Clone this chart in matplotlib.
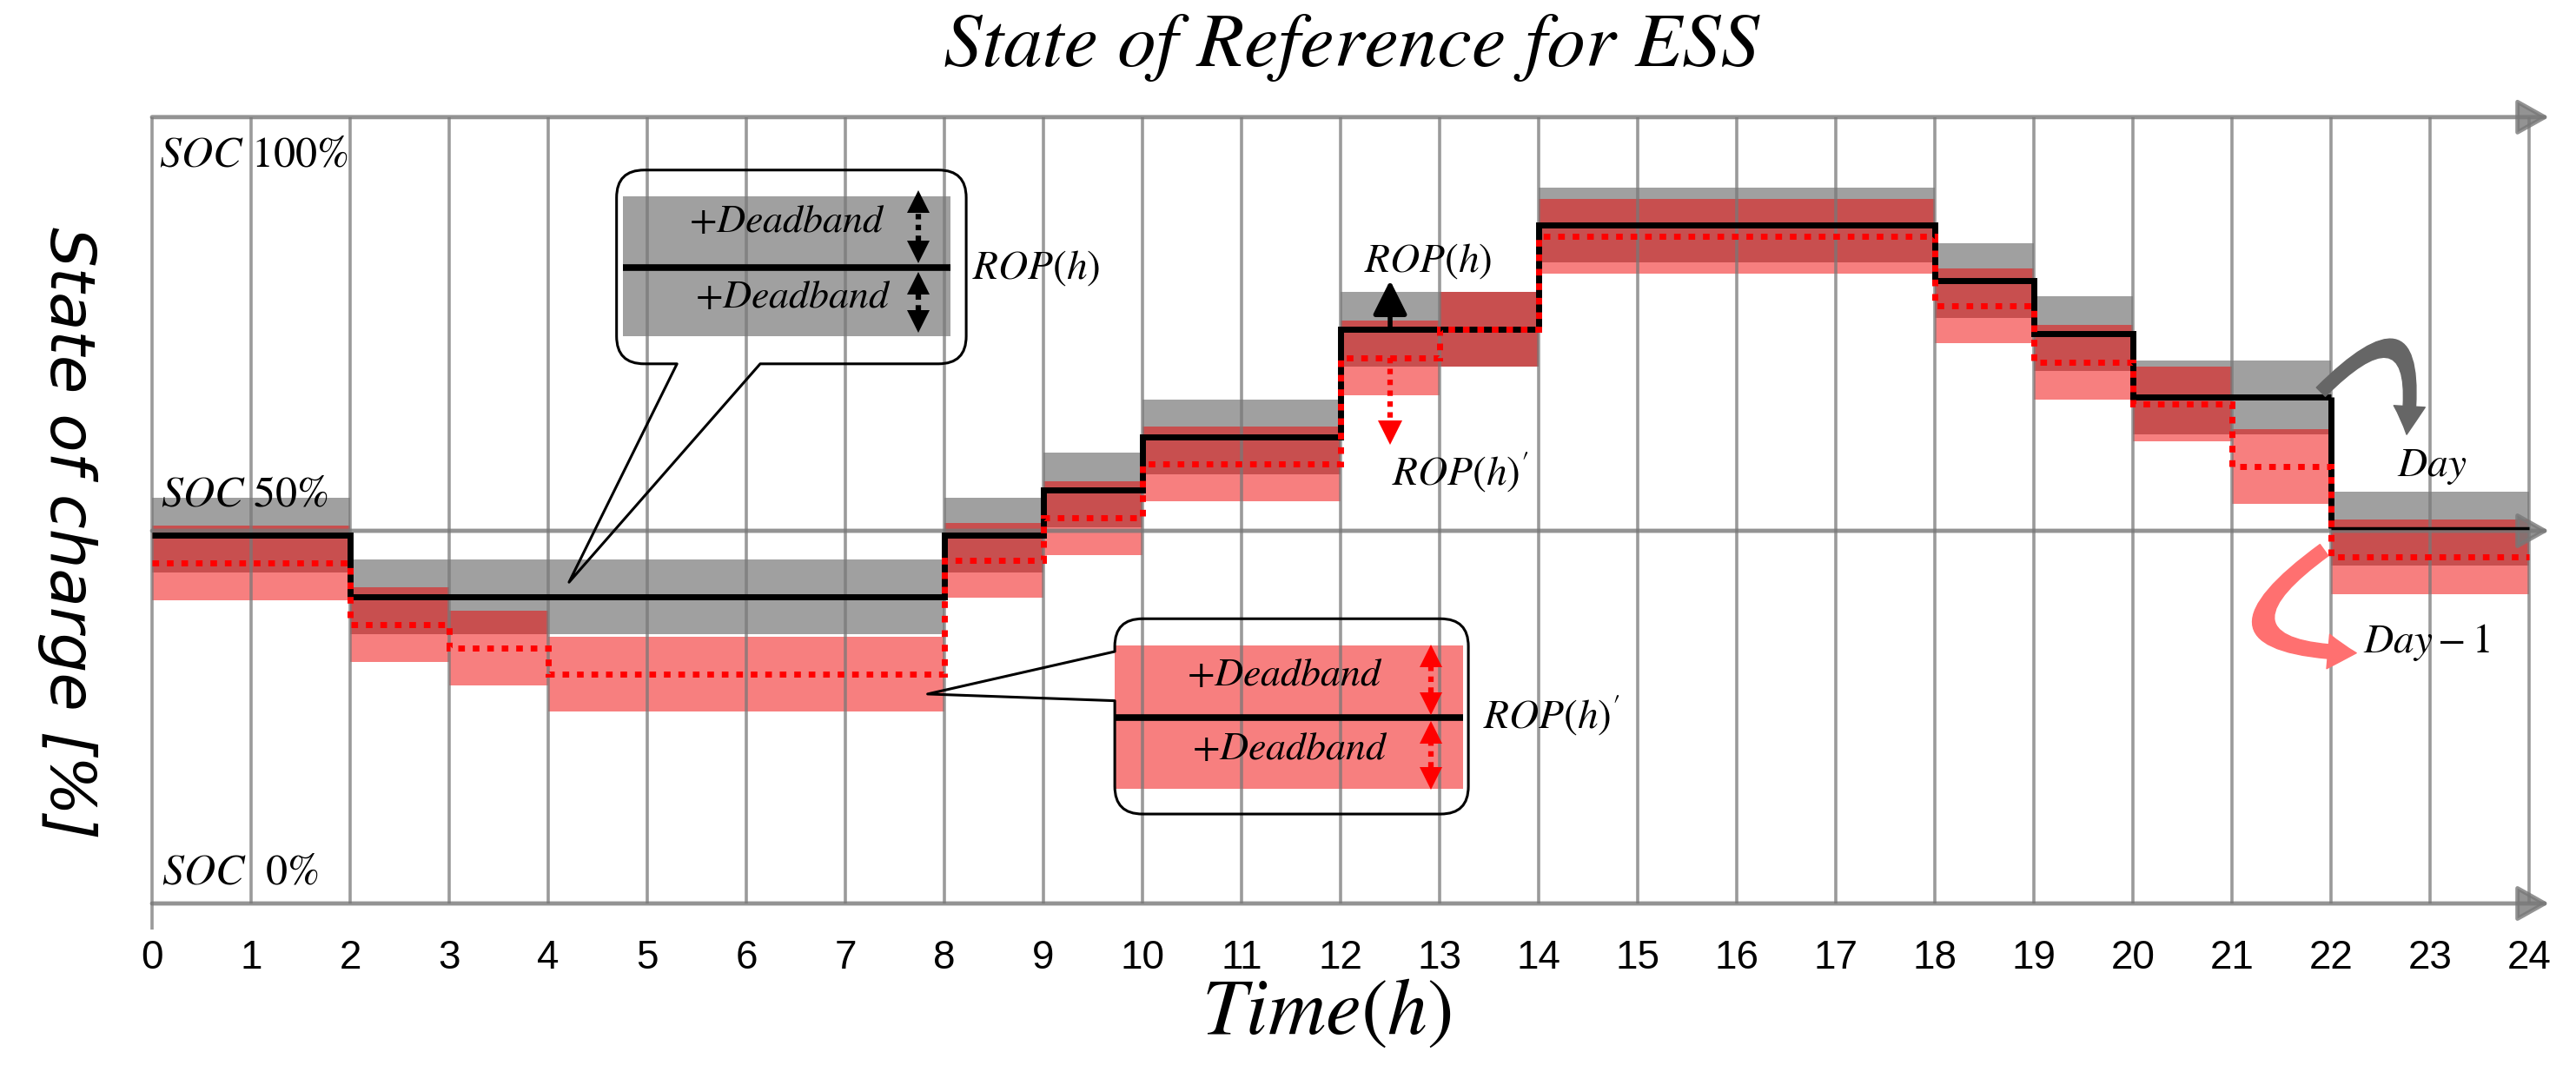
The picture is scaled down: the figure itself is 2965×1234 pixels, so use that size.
import numpy as np
import matplotlib
matplotlib.use('Agg')
import matplotlib.pyplot as plt
from matplotlib.path import Path
from matplotlib.patches import PathPatch, FancyArrowPatch, Rectangle

plt.rcParams['mathtext.fontset'] = 'stix'
plt.rcParams['font.family'] = ['STIXGeneral', 'DejaVu Sans']

# hours of the day (x axis)
hours = list(range(25))

# reference operating point ROP(h) of day D: segment edges [h] and SOC [%]
rop_edges = [0, 2, 8, 9, 10, 12, 14, 18, 19, 20, 22, 24]
rop_soc = [49.4, 41.1, 49.4, 55.5, 62.6, 77.0, 91.0, 83.6, 76.5, 67.9, 50.3]

# modified reference ROP(h)' (day D-1)
rop2_edges = [0, 2, 3, 4, 8, 9, 10, 12, 13, 14, 18, 19, 20, 21, 22, 24]
rop2_soc = [45.7, 37.4, 34.3, 30.8, 46.0, 51.7, 59.0, 73.2, 77.0, 89.5,
            80.2, 72.6, 67.0, 58.6, 46.5]

deadband = 5.0
soc_top = 105.5

GRID = (0.47, 0.47, 0.47)
BAND_GRAY = '#a0a0a0'
BAND_RED = (0.94, 0.0, 0.0)


def bubble(x0, y0, x1, y1, rx, ry, tail, edge):
    a, b, tip = tail
    verts = [(x0 + rx, y0)]
    codes = [Path.MOVETO]
    if edge == 'bottom':
        verts += [(a, y0), tip, (b, y0)]
        codes += [Path.LINETO] * 3
    verts += [(x1 - rx, y0), (x1, y0), (x1, y0 + ry),
              (x1, y1 - ry), (x1, y1), (x1 - rx, y1),
              (x0 + rx, y1), (x0, y1), (x0, y1 - ry)]
    codes += [Path.LINETO, Path.CURVE3, Path.CURVE3,
              Path.LINETO, Path.CURVE3, Path.CURVE3,
              Path.LINETO, Path.CURVE3, Path.CURVE3]
    if edge == 'left':
        verts += [(x0, a), tip, (x0, b)]
        codes += [Path.LINETO] * 3
    verts += [(x0, y0 + ry), (x0, y0), (x0 + rx, y0)]
    codes += [Path.LINETO, Path.CURVE3, Path.CURVE3]
    return PathPatch(Path(verts, codes), fill=False, lw=2.2, ec='black',
                     zorder=4, joinstyle='round')


def dbl_arrow(ax, x, y0, y1, color):
    # dotted shaft with solid triangular heads at both ends
    head = 1.4
    ax.plot([x, x], [y0 + head, y1 - head], color=color, lw=4.5,
            ls=(0, (1, 1)), zorder=4)
    ax.plot(x, y1 - head, marker='^', ms=19, color=color, mew=0, zorder=4)
    ax.plot(x, y0 + head, marker='v', ms=19, color=color, mew=0, zorder=4)


fig = plt.figure(figsize=(29.65, 12.34), dpi=100)
ax = fig.add_axes([0.04749, 0.1294, 0.9497, 0.7683])
ax.set_xlim(-0.3, 24.4)
ax.set_ylim(-4, 106.5)
for s in ax.spines.values():
    s.set_visible(False)
ax.set_yticks([])
ax.set_xticks(hours)
ax.set_xticklabels([str(h) for h in hours])
ax.tick_params(axis='x', length=0, pad=5, labelsize=33)
for lbl in ax.get_xticklabels():
    lbl.set_family(['Liberation Sans', 'DejaVu Sans'])

# deadband bands
rop = np.array(rop_soc)
rop2 = np.array(rop2_soc)
ax.stairs(rop + deadband, rop_edges, baseline=rop - deadband, fill=True,
          color=BAND_GRAY, lw=0, zorder=1)
ax.stairs(rop2 + deadband, rop2_edges, baseline=rop2 - deadband, fill=True,
          color=BAND_RED, alpha=0.5, lw=0, zorder=1.1)

# grid and frame
ax.vlines(hours[1:], 0, soc_top, color=GRID, alpha=0.75, lw=2.6, zorder=2)
ax.vlines(0, -3.5, soc_top, color=GRID, alpha=0.75, lw=2.6, zorder=2)
for y in [0, 50, soc_top]:
    ax.annotate('', xy=(24.2, y), xytext=(0, y), zorder=2,
                arrowprops=dict(arrowstyle='-|>,head_length=0.5,head_width=0.28',
                                color=GRID, alpha=0.8, lw=3.5, shrinkA=0,
                                shrinkB=0, mutation_scale=45))

# ROP(h) and ROP(h)' step lines
ax.stairs(rop[:-1], rop_edges[:-1], baseline=None, color='black', lw=5, zorder=3)
ax.vlines(rop_edges[-2], rop[-1], rop[-2], color='black', lw=5, zorder=3)
ax.hlines(rop[-1], rop_edges[-2], rop_edges[-1], color='black', lw=2.5, zorder=3)
ax.stairs(rop2, rop2_edges, baseline=None, color='red', lw=5,
          ls=(0, (1.1, 1.3)), zorder=3.5)

# SOC labels
ax.text(0.07, 102.9, '$SOC$ 100%', fontsize=36, va='top', ha='left', zorder=5)
ax.text(0.09, 53.3, '$SOC$ 50%', fontsize=36, va='baseline', ha='left', zorder=5)
ax.text(0.1, 2.6, '$SOC$  0%', fontsize=36, va='baseline', ha='left', zorder=5)

# callout for ROP(h)
ax.add_patch(bubble(4.69, 72.4, 8.22, 98.4, 0.28, 3.7,
                    (5.30, 6.14, (4.21, 43.1)), 'bottom'))
ax.add_patch(Rectangle((4.75, 76.1), 3.31, 18.8, color=BAND_GRAY, lw=0, zorder=1.5))
ax.hlines(85.3, 4.75, 8.06, color='black', lw=5.5, zorder=3)
ax.text(6.41, 91.3, '$+Deadband$', fontsize=33, ha='center', va='center', zorder=5)
ax.text(6.47, 81.2, '$+Deadband$', fontsize=33, ha='center', va='center', zorder=5)
dbl_arrow(ax, 7.74, 86.0, 95.6, 'black')
dbl_arrow(ax, 7.74, 76.7, 84.6, 'black')
ax.text(8.28, 85.3, '$ROP(h)$', fontsize=34, ha='left', va='center', zorder=5)

# callout for ROP(h)'
ax.add_patch(bubble(9.72, 12.0, 13.29, 38.2, 0.28, 3.7,
                    (33.8, 27.2, (7.83, 28.1)), 'left'))
ax.add_patch(Rectangle((9.72, 15.4), 3.52, 19.2, color=BAND_RED, alpha=0.5,
                       lw=0, zorder=1.5))
ax.hlines(24.9, 9.72, 13.24, color='black', lw=5.5, zorder=3)
ax.text(11.44, 30.5, '$+Deadband$', fontsize=33, ha='center', va='center', zorder=5)
ax.text(11.49, 20.6, '$+Deadband$', fontsize=33, ha='center', va='center', zorder=5)
dbl_arrow(ax, 12.91, 25.4, 34.6, 'red')
dbl_arrow(ax, 12.91, 15.4, 24.4, 'red')
ax.text(13.44, 25.3, "$ROP(h)'$", fontsize=34, ha='left', va='center', zorder=5)

# shift of ROP(h) at hour 12
ax.annotate('', xy=(12.5, 83.6), xytext=(12.5, rop_soc[5]), zorder=4,
            arrowprops=dict(arrowstyle='-|>,head_length=0.6,head_width=0.3',
                            color='black', lw=4, shrinkA=0, shrinkB=0,
                            mutation_scale=40))
ax.plot([12.5, 12.5], [rop2_soc[7], 64.8], color='red', lw=4.5, ls=(0, (1, 1)),
        zorder=4)
ax.plot(12.5, 63.2, marker='v', ms=20, color='red', mew=0, zorder=4)
ax.text(12.24, 86.2, '$ROP(h)$', fontsize=34, ha='left', va='center', zorder=5)
ax.text(12.52, 57.9, "$ROP(h)'$", fontsize=34, ha='left', va='center', zorder=5)

# day wrap arrows
ax.add_patch(FancyArrowPatch((21.88, 68.4), (22.76, 62.6),
                             connectionstyle='arc3,rad=-1.5',
                             arrowstyle='simple,head_length=0.9,head_width=1.0,tail_width=0.4',
                             mutation_scale=26, color='#666666', zorder=5))
ax.add_patch(FancyArrowPatch((21.95, 47.6), (22.28, 33.6),
                             connectionstyle='arc3,rad=1.5',
                             arrowstyle='simple,head_length=0.9,head_width=1.1,tail_width=0.45',
                             mutation_scale=26, color='#ff7070', zorder=5))
ax.text(23.02, 58.6, '$Day$', fontsize=34, ha='center', va='center', zorder=5)
ax.text(22.96, 35.0, '$Day-1$', fontsize=34, ha='center', va='center', zorder=5)

# titles
fig.text(0.5245, 1 - 55 / 1234, 'State of Reference for ESS', fontsize=64,
         style='italic', family='STIXGeneral', ha='center', va='center')
fig.text(0.515, 1 - 1168 / 1234, '$Time(h)$', fontsize=66, ha='center', va='center')
fig.text(0.026, 0.503, 'State of charge [%]', fontsize=52, rotation=270,
         family='DejaVu Sans', style='italic', ha='center', va='center')

fig.savefig('out.png', dpi=100)
